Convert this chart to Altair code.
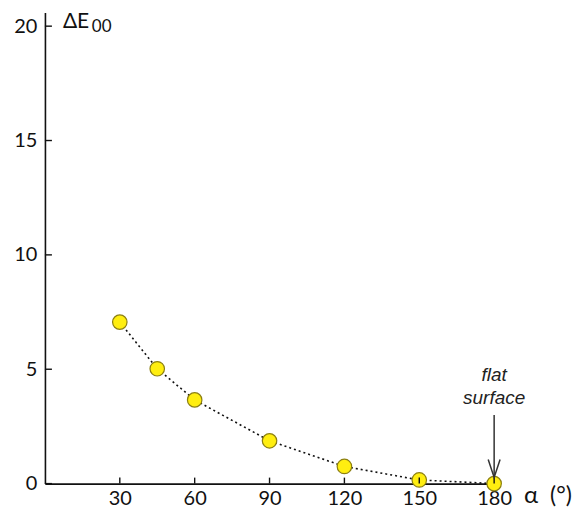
import altair as alt
import pandas as pd

# data
alpha = [30, 45, 60, 90, 120, 150, 180]
delta_e = [7.06, 5.02, 3.66, 1.87, 0.75, 0.16, 0.0]
x_ticks = [30, 60, 90, 120, 150, 180]
y_ticks = [0, 5, 10, 15, 20]
arrow_x = [180]
arrow_top = [3.0]
arrow_tip = [0.27]

W, H = 450, 472
xs = alt.Scale(domain=[0, 180], nice=False, zero=False)
ys = alt.Scale(domain=[0, 20.6], nice=False)
FONT = "Lato"

xaxis = alt.Axis(values=x_ticks, title=None, ticks=False, grid=False,
                 labelFontSize=20, labelFont=FONT, labelColor="#111",
                 labelPadding=5, labelFlush=False, labelOverlap=False,
                 domainColor="#111", domainWidth=1.6)
yaxis = alt.Axis(values=y_ticks, title=None, ticks=False, grid=False,
                 labelFontSize=20, labelFont=FONT, labelColor="#111",
                 labelPadding=8, labelFlush=False, labelOverlap=False,
                 domainColor="#111", domainWidth=1.6)

df = pd.DataFrame({"a": alpha, "d": delta_e})
dx = pd.DataFrame({"t": x_ticks})
dy = pd.DataFrame({"t": y_ticks})
da = pd.DataFrame({"x": arrow_x, "y": arrow_top, "y2": arrow_tip})


def X(f):
    return alt.X(f, scale=xs, axis=xaxis)


def Y(f):
    return alt.Y(f, scale=ys, axis=yaxis)


base = alt.Chart(df)

line = base.mark_line(color="#111", strokeDash=[2, 3], strokeWidth=1.6).encode(
    x=X("a:Q"), y=Y("d:Q"))

points = base.mark_point(filled=True, fill="#FFEE10", stroke="#8C7F10",
                         strokeWidth=1.2, size=210, opacity=1).encode(
    x=X("a:Q"), y=Y("d:Q"))

xt = alt.Chart(dx).mark_rule(color="#111", strokeWidth=1.4).encode(
    x=X("t:Q"), y=alt.value(H), y2=alt.value(H - 6))
yt = alt.Chart(dy).mark_rule(color="#111", strokeWidth=1.4).encode(
    y=Y("t:Q"), x=alt.value(0), x2=alt.value(7))

arrow = alt.Chart(da).mark_rule(color="#333", strokeWidth=1.5).encode(
    x=X("x:Q"), y=Y("y:Q"), y2="y2:Q")
head = alt.Chart(da).mark_point(shape="M-0.33,-1L0,0L0.33,-1", filled=False,
                                stroke="#333", strokeWidth=1.5, size=1300,
                                opacity=1).encode(
    x=X("x:Q"), y=Y("y2:Q"))

flat = alt.Chart(da).mark_text(text="flat\nsurface", lineBreak="\n",
                               font="Liberation Sans", fontStyle="italic",
                               fontSize=19, lineHeight=23, color="#222",
                               align="center", baseline="middle").encode(
    x=X("x:Q"), y=alt.value(363))

de_title = alt.Chart(da).mark_text(text="ΔE", font=FONT, fontSize=21,
                                   color="#111", align="left",
                                   baseline="alphabetic").encode(
    x=alt.value(18), y=alt.value(16))
de_sub = alt.Chart(da).mark_text(text="00", font=FONT, fontSize=17,
                                 color="#111", align="left",
                                 baseline="alphabetic").encode(
    x=alt.value(47), y=alt.value(20))
a_title = alt.Chart(da).mark_text(text="α", font=FONT, fontSize=24,
                                  color="#111", align="left",
                                  baseline="middle").encode(
    x=alt.value(480), y=alt.value(484))
deg_title = alt.Chart(da).mark_text(text="(°)", font=FONT, fontSize=23,
                                    color="#111", align="left",
                                    baseline="middle").encode(
    x=alt.value(506), y=alt.value(484))

chart = alt.layer(line, points, xt, yt, arrow, head, flat, de_title, de_sub,
                  a_title, deg_title).properties(
    width=W, height=H,
    autosize=alt.AutoSizeParams(type="none"),
    padding={"left": 37, "top": 4, "right": 82, "bottom": 25},
).configure_view(stroke=None)

chart.save("out.html", embed_options={"renderer": "svg", "actions": False})
